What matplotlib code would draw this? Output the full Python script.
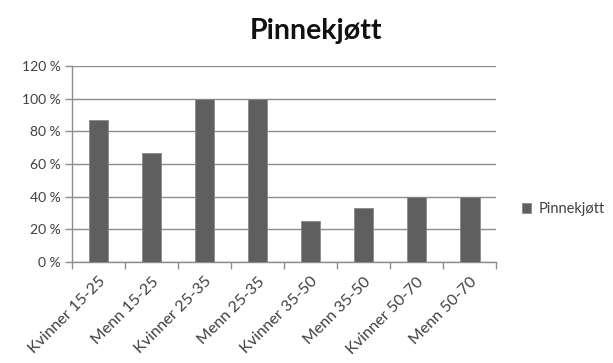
import matplotlib
matplotlib.use("Agg")
import matplotlib.pyplot as plt
import numpy as np

categories = ["Kvinner 15-25", "Menn 15-25", "Kvinner 25-35", "Menn 25-35",
              "Kvinner 35-50", "Menn 35-50", "Kvinner 50-70", "Menn 50-70"]
values = [86.7, 66.7, 100, 100, 25, 33.3, 40, 40]
yticks = [0, 20, 40, 60, 80, 100, 120]
series_name = "Pinnekjøtt"
title = "Pinnekjøtt"

plt.rcParams["font.family"] = ["Lato", "DejaVu Sans"]
text_color = "#404040"
grid_color = "#8c8c8c"
bar_color = "#5f5f5f"

fig = plt.figure(figsize=(6.13, 3.63), dpi=100)
ax = fig.add_axes([0.1175, 0.278, 0.692, 0.540])

x = np.arange(len(categories))
bars = ax.bar(x, values, width=0.37, color=bar_color, edgecolor="#8a8a8a",
              linewidth=0.6, zorder=3, label=series_name)

ax.set_xlim(-0.5, len(categories) - 0.5)
ax.set_ylim(0, 120)
ax.set_yticks(yticks)
ax.set_yticklabels([f"{v} %" for v in yticks])
ax.yaxis.grid(True, color=grid_color, linewidth=1.0, zorder=0)

ax.set_xticks(x)
ax.set_xticklabels(categories, rotation=45, ha="right", rotation_mode="anchor")
ax.set_xticks(np.arange(-0.5, len(categories)), minor=True)
ax.tick_params(axis="x", which="major", length=0, pad=9, labelsize=11.5,
               labelcolor=text_color)
ax.tick_params(axis="x", which="minor", length=5, color=grid_color, width=1)
ax.tick_params(axis="y", length=5, color=grid_color, width=1, labelsize=10,
               labelcolor=text_color, pad=3)

for side in ("top", "right"):
    ax.spines[side].set_visible(False)
for side in ("left", "bottom"):
    ax.spines[side].set_color(grid_color)
    ax.spines[side].set_linewidth(1.0)

fig.text(0.515, 0.915, title, ha="center", va="center", fontsize=20.5,
         fontweight="bold", color="#111111")

fig.legend(handles=[bars], labels=[series_name], loc="center left",
           bbox_to_anchor=(0.852, 0.424), frameon=False, fontsize=10.5,
           borderpad=0, borderaxespad=0,
           handlelength=0.6, handleheight=0.6, handletextpad=0.5,
           labelcolor=text_color)

fig.savefig("out.png", dpi=100, facecolor="white")
